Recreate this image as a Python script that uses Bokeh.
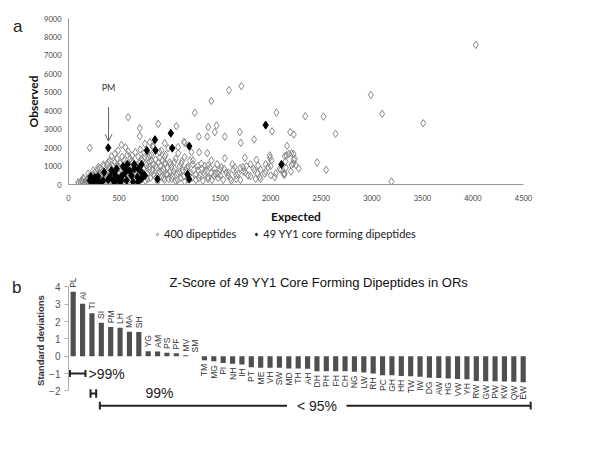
from bokeh.plotting import figure
from bokeh.models import (ColumnDataSource, Label, Arrow, OpenHead, Legend, LegendItem,
                          FixedTicker, Range1d, LinearAxis)
from bokeh.layouts import column
from bokeh.embed import file_html
from bokeh.resources import INLINE
from bokeh.core.properties import value

# ---------------- Panel a data (Expected, Observed) ----------------
all_points = [
    (211, 1990), (590, 3650), (705, 3050), (705, 2620), (887, 3290), (1068, 3160), (1249, 3890),
    (1382, 3110), (1464, 3200), (1447, 2840), (1372, 2600), (1289, 2600), (1546, 2600), (1694, 2840),
    (1704, 2260), (1836, 2440), (1085, 1700), (1150, 2260), (1216, 1750), (1292, 1750), (1372, 1700),
    (1546, 1425), (1744, 1445), (1859, 1340), (755, 2205), (804, 2290), (837, 2110), (952, 2240),
    (986, 1970), (920, 1840), (524, 2150), (563, 2020), (590, 1800), (491, 1840), (630, 1570),
    (458, 1660), (425, 1520), (393, 1210), (343, 1084), (293, 940), (244, 760), (195, 580),
    (145, 363), (96, 125), (161, 125), (129, 217),
    (1413, 4530), (1587, 5110), (1710, 5330), (2056, 3895), (2013, 2880), (1142, 2320), (1083, 2030),
    (1993, 1450), (2132, 580),
    (901, 1757), (950, 1486), (835, 2029), (802, 1576), (752, 1486), (950, 1123), (1016, 942),
    (1049, 1214), (1115, 1123), (1148, 1486), (1181, 942), (1231, 1304), (1280, 760), (1313, 1123),
    (1347, 580), (1380, 1033), (1413, 1304), (1446, 851), (1479, 580), (1512, 942), (1578, 489),
    (1611, 217), (1644, 942), (1677, 580), (1726, 942), (1776, 489), (1842, 760), (1875, 1033),
    (1941, 580), (1974, 942), (2007, 1304), (2040, 399), (2089, 851), (2139, 580), (2221, 1123),
    (2238, 1395), (2205, 1700), (2155, 1576), (1891, 399), (1990, 1576),
    (4028, 7570), (2990, 4860), (3102, 3830), (3508, 3320), (2341, 3700), (2522, 3685), (2641, 2750),
    (3194, 163), (2459, 1192), (2548, 795), (2277, 867), (2192, 2840), (2228, 2710), (2162, 2097),
    (2139, 1535), (2179, 1662), (2226, 1662), (2226, 1355), (2206, 1066), (2146, 1246), (2133, 524),
    (100, 30), (120, 80), (140, 150), (160, 60), (180, 250), (190, 120), (150, 300), (200, 400),
    (210, 180), (220, 50), (230, 300), (240, 500), (250, 150), (260, 650), (270, 380), (280, 90),
    (290, 800), (300, 250), (300, 520), (310, 900), (320, 420), (330, 150), (340, 700), (350, 1000),
    (360, 300), (370, 550), (380, 1100), (390, 80), (400, 850), (400, 430), (410, 1300), (420, 200),
    (430, 650), (440, 1000), (450, 350), (460, 1200), (470, 780), (480, 1400), (490, 100), (500, 550),
    (500, 950), (510, 1150), (520, 300), (530, 1500), (540, 700), (550, 1300), (560, 450), (570, 900),
    (580, 1600), (590, 200), (600, 1050), (600, 650), (610, 1400), (620, 350), (630, 850), (640, 1200),
    (650, 550), (660, 1750), (670, 950), (680, 250), (690, 1500), (700, 700), (700, 1150), (710, 1900),
    (720, 450), (730, 1300), (740, 850), (750, 1700), (760, 200), (770, 1050), (780, 600), (790, 1450),
    (800, 950), (800, 1250), (810, 350), (820, 1600), (830, 750), (840, 1100), (850, 500), (860, 1350),
    (870, 900), (880, 150), (890, 1200), (900, 650), (910, 1000), (920, 400), (930, 1300), (940, 800),
    (950, 250), (960, 1150), (970, 550), (980, 900), (990, 300), (1000, 700), (1010, 1100), (1030, 450),
    (1050, 850), (1060, 200), (1080, 600), (1100, 1000), (1110, 350), (1130, 750), (1150, 150),
    (1170, 900), (1190, 500), (1200, 1300), (1220, 350), (1240, 800), (1260, 250), (1280, 1000),
    (1300, 500), (1330, 200), (1350, 750), (1380, 400), (1400, 900), (1420, 250), (1450, 600),
    (1480, 350), (1500, 800), (1530, 250), (1560, 650), (1600, 300), (1630, 800), (1660, 500),
    (1700, 250), (1730, 700), (1760, 1000), (1800, 450), (1830, 850), (1870, 600), (1900, 300),
    (1950, 700), (2000, 1000), (2050, 600), (2100, 800), (2150, 900), (2200, 700), (2250, 1050),
    (150, 50), (180, 100), (200, 250), (220, 350), (240, 200), (260, 450), (280, 300), (300, 600),
    (320, 250), (340, 500), (360, 150), (380, 700), (400, 300), (420, 900), (440, 550), (460, 250),
    (480, 1050), (500, 400), (520, 800), (540, 200), (560, 1100), (580, 500), (600, 850), (620, 1250),
    (640, 350), (660, 700), (680, 1050), (700, 400), (720, 1400), (740, 600), (760, 1150), (780, 300),
    (800, 800), (820, 1300), (840, 550), (860, 1000), (880, 450), (900, 1450), (920, 750), (940, 350),
    (960, 1600), (980, 550), (1000, 1200), (1020, 300), (1040, 700), (1060, 1400), (1080, 250),
    (1100, 650), (1120, 1250), (1140, 450), (1160, 800), (1180, 300), (1200, 600), (1230, 1100),
    (1260, 550), (1290, 350), (1320, 850), (1350, 1000), (1380, 300), (1410, 650), (1440, 450),
    (1470, 1100), (1500, 500), (1540, 850), (1580, 650), (1620, 1100), (1660, 300), (1700, 900),
    (1750, 650), (1800, 1100), (1850, 300), (1900, 800), (1950, 1100), (2000, 500),
]
all_expected = [p[0] for p in all_points]
all_observed = [p[1] for p in all_points]

core_expected = [393, 211, 244, 277, 310, 343, 260, 353, 409, 442, 458, 491, 524, 557, 574, 623,
                 640, 650, 650, 583, 583, 722, 722, 722, 682, 425, 475, 855, 775, 860, 1012, 1026,
                 1194, 880, 1177, 1194, 1950, 2106, 689, 293, 220, 507, 606, 393, 458, 524, 689,
                 755, 540]
core_observed = [1990, 217, 125, 217, 125, 217, 363, 667, 396, 217, 542, 309, 434, 613, 217, 488,
                 125, 1084, 850, 1084, 850, 1084, 667, 309, 396, 759, 850, 2430, 1850, 1850, 2780, 1970,
                 2080, 290, 542, 290, 3220, 1090, 125, 434, 434, 125, 722, 255, 125, 217, 850,
                 488, 980]

x_ticks_a = [0, 500, 1000, 1500, 2000, 2500, 3000, 3500, 4000, 4500]
y_ticks_a = [0, 1000, 2000, 3000, 4000, 5000, 6000, 7000, 8000, 9000]

# ---------------- Panel b data ----------------
dipeptides = ["PL", "AI", "TI", "SI", "PM", "LH", "MA", "SH", "YG", "AM", "PS", "PF", "MV", "SM",
              "TM", "MG", "PI", "NH", "IH", "PT", "ME", "VH", "SW", "MD", "TH", "AH", "DH", "PH",
              "FH", "CH", "NG", "LW", "RH", "PC", "GH", "HH", "TW", "IW", "DG", "AW", "HG", "VW",
              "YH", "RW", "GW", "PW", "KW", "QW", "EW"]
z_scores = [3.72, 3.03, 2.47, 1.93, 1.68, 1.64, 1.41, 1.39, 0.29, 0.27, 0.2, 0.17, 0.05, 0.0,
            -0.23, -0.29, -0.39, -0.44, -0.48, -0.64, -0.67, -0.67, -0.67, -0.71, -0.71, -0.73, -0.87, -0.87,
            -0.87, -0.87, -0.9, -0.94, -1.0, -1.1, -1.1, -1.14, -1.15, -1.18, -1.24, -1.25, -1.28, -1.31,
            -1.33, -1.43, -1.44, -1.45, -1.46, -1.48, -1.5]
y_ticks_b = [-2, -1, 0, 1, 2, 3, 4]

FA = "Lato"
FB = "Liberation Sans"

# ================= Panel a =================
pa = figure(frame_width=455, frame_height=166, output_backend="svg", toolbar_location=None,
            x_range=Range1d(0, 4500), y_range=Range1d(0, 9000),
            min_border_left=67, min_border_right=78, min_border_top=18, min_border_bottom=42)
pa.outline_line_color = None
pa.grid.grid_line_color = None

r_all = pa.scatter(all_expected, all_observed, marker="diamond", size=7.5,
                   fill_color=None, line_color="#8a8a8a", line_width=1)
r_core = pa.scatter(core_expected, core_observed, marker="diamond", size=8,
                    fill_color="black", line_color="black")

for ax in (pa.xaxis[0], pa.yaxis[0]):
    ax.axis_line_color = "#999999"
    ax.major_tick_line_color = None
    ax.major_tick_out = 0
    ax.major_tick_in = 0
    ax.minor_tick_line_color = None
    ax.minor_tick_out = 0
    ax.major_label_text_font = FA
    ax.major_label_text_font_size = "7.5px"
    ax.major_label_text_color = "#444444"
    ax.axis_label_text_font = FA
    ax.axis_label_text_font_style = "bold"
    ax.axis_label_text_font_size = "12px"
    ax.axis_label_text_color = "#111111"
pa.xaxis.ticker = FixedTicker(ticks=x_ticks_a)
pa.yaxis.ticker = FixedTicker(ticks=y_ticks_a)
pa.xaxis.axis_label = "Expected"
pa.yaxis.axis_label = "Observed"
pa.xaxis.major_label_standoff = 10
pa.xaxis.axis_label_standoff = 5
pa.yaxis.major_label_standoff = 7
pa.yaxis.axis_label_standoff = 0

# panel letter "a" as an outer, line-less left axis
letter_a = LinearAxis(ticker=FixedTicker(ticks=[8560]), major_label_overrides={8560: "a"},
                      axis_line_color=None, major_tick_line_color=None, minor_tick_line_color=None,
                      major_tick_out=0, major_tick_in=0, minor_tick_out=0, axis_label_standoff=0,
                      major_label_text_font=FB, major_label_text_font_size="17px",
                      major_label_text_color="#222222", major_label_standoff=1)
pa.add_layout(letter_a, "left")

pa.add_layout(Arrow(end=OpenHead(size=7, line_color="#666666", line_width=1),
                    x_start=396, y_start=4200, x_end=396, y_end=2350,
                    line_color="#666666", line_width=1))
pa.add_layout(Label(x=396, y=4950, text="PM", text_align="center", text_baseline="bottom",
                    text_font=FA, text_font_size="9px", text_color="#333333"))

# ================= Legend strip =================
lf = figure(width=600, height=14, output_backend="svg", toolbar_location=None,
            x_range=Range1d(0, 1), y_range=Range1d(0, 1),
            min_border_left=0, min_border_right=0, min_border_top=0, min_border_bottom=0)
lf.axis.visible = False
lf.grid.grid_line_color = None
lf.outline_line_color = None
# off-range placeholder points so the legend can draw its swatches
l_all = lf.scatter([5], [5], marker="diamond", size=7.5, fill_color=None, line_color="#8a8a8a")
l_core = lf.scatter([5], [5], marker="diamond", size=8, fill_color="black", line_color="black")
legend = Legend(items=[LegendItem(label="400 dipeptides", renderers=[l_all]),
                       LegendItem(label="49 YY1 core forming dipeptides", renderers=[l_core])],
                orientation="horizontal", location=(85, 0), border_line_color=None,
                background_fill_alpha=0, label_text_font=FA, label_text_font_size="11px",
                label_text_color="#222222", glyph_width=8, glyph_height=10, label_standoff=3,
                spacing=16, padding=1, margin=0, label_height=12)
lf.add_layout(legend, "center")

# ================= Panel b =================
n = len(dipeptides)
idx = list(range(n))
pb = figure(frame_width=471, frame_height=158, output_backend="svg", toolbar_location=None,
            x_range=Range1d(-0.5, 49.74), y_range=Range1d(-3.65, 5.46),
            min_border_left=68, min_border_right=61, min_border_top=21, min_border_bottom=10)
pb.outline_line_color = None
pb.grid.grid_line_color = None
pb.xaxis.visible = False

pb.vbar(x=idx, top=z_scores, bottom=0, width=0.55, fill_color="#4f4f4f", line_color=None)

pos = [i for i in idx if z_scores[i] >= 0]
neg = [i for i in idx if z_scores[i] < 0]
src_pos = ColumnDataSource(dict(x=pos, y=[z_scores[i] + 0.22 for i in pos],
                                t=[dipeptides[i] for i in pos]))
src_neg = ColumnDataSource(dict(x=neg, y=[z_scores[i] - 0.22 for i in neg],
                                t=[dipeptides[i] for i in neg]))
pb.text(x="x", y="y", text="t", source=src_pos, angle=1.5708, text_align="left",
        text_baseline="middle", text_font=value(FB), text_font_size="8.5px", text_color="#333333")
pb.text(x="x", y="y", text="t", source=src_neg, angle=1.5708, text_align="right",
        text_baseline="middle", text_font=value(FB), text_font_size="8.5px", text_color="#333333")

ya = pb.yaxis[0]
ya.bounds = (-2, 4)
ya.ticker = FixedTicker(ticks=y_ticks_b)
ya.axis_line_color = "#b0b0b0"
ya.major_tick_line_color = "#b0b0b0"
ya.major_tick_out = 4
ya.major_tick_in = 0
ya.minor_tick_line_color = None
ya.minor_tick_out = 0
ya.major_label_text_font = FB
ya.major_label_text_font_size = "10px"
ya.major_label_text_color = "#555555"
ya.major_label_standoff = 4
ya.axis_label = "Standard deviations"
ya.axis_label_text_font = FB
ya.axis_label_text_font_style = "bold"
ya.axis_label_text_font_size = "9.5px"
ya.axis_label_text_color = "#333333"
ya.axis_label_standoff = 0

# panel letter "b" as an outer, line-less left axis (shifted range: tick 4 sits at y = 3.96)
pb.extra_y_ranges = {"letter": Range1d(-3.61, 5.50)}
letter_b = LinearAxis(y_range_name="letter", ticker=FixedTicker(ticks=[4]),
                      major_label_overrides={4: "b"},
                      axis_line_color=None, major_tick_line_color=None, minor_tick_line_color=None,
                      major_tick_out=0, major_tick_in=0, minor_tick_out=0, axis_label_standoff=0,
                      major_label_text_font=FB, major_label_text_font_size="17px",
                      major_label_text_color="#222222", major_label_standoff=11)
pb.add_layout(letter_b, "left")

pb.add_layout(Label(x=26.2, y=4.25, text="Z-Score of 49 YY1 Core Forming Dipeptides in ORs",
                    text_align="center", text_baseline="middle", text_font=FB,
                    text_font_size="13px", text_color="#111111"))

# brackets
bx0 = [-0.36, -0.36, 1.31, 1.85, 1.85, 2.45, 2.84, 29.15, 2.84, 48.8]
bx1 = [1.31, -0.36, 1.31, 2.45, 1.85, 2.45, 22.8, 48.8, 2.84, 48.8]
by0 = [-1.0, -0.8, -0.8, -2.15, -1.9, -1.9, -2.85, -2.85, -2.62, -2.62]
by1 = [-1.0, -1.2, -1.2, -2.15, -2.4, -2.4, -2.85, -2.85, -3.08, -3.08]
pb.segment(x0=bx0, y0=by0, x1=bx1, y1=by1, line_color="#222222", line_width=2)

for (tx, ty, tt, al) in [(1.63, -1.0, ">99%", "left"), (9.2, -2.15, "99%", "center"),
                         (26.0, -2.85, "< 95%", "center")]:
    pb.add_layout(Label(x=tx, y=ty, text=tt, text_align=al, text_baseline="middle",
                        text_font=FB, text_font_size="14px", text_color="#222222"))

layout = column(pa, lf, pb)
open("out.html", "w").write(file_html(layout, INLINE))
